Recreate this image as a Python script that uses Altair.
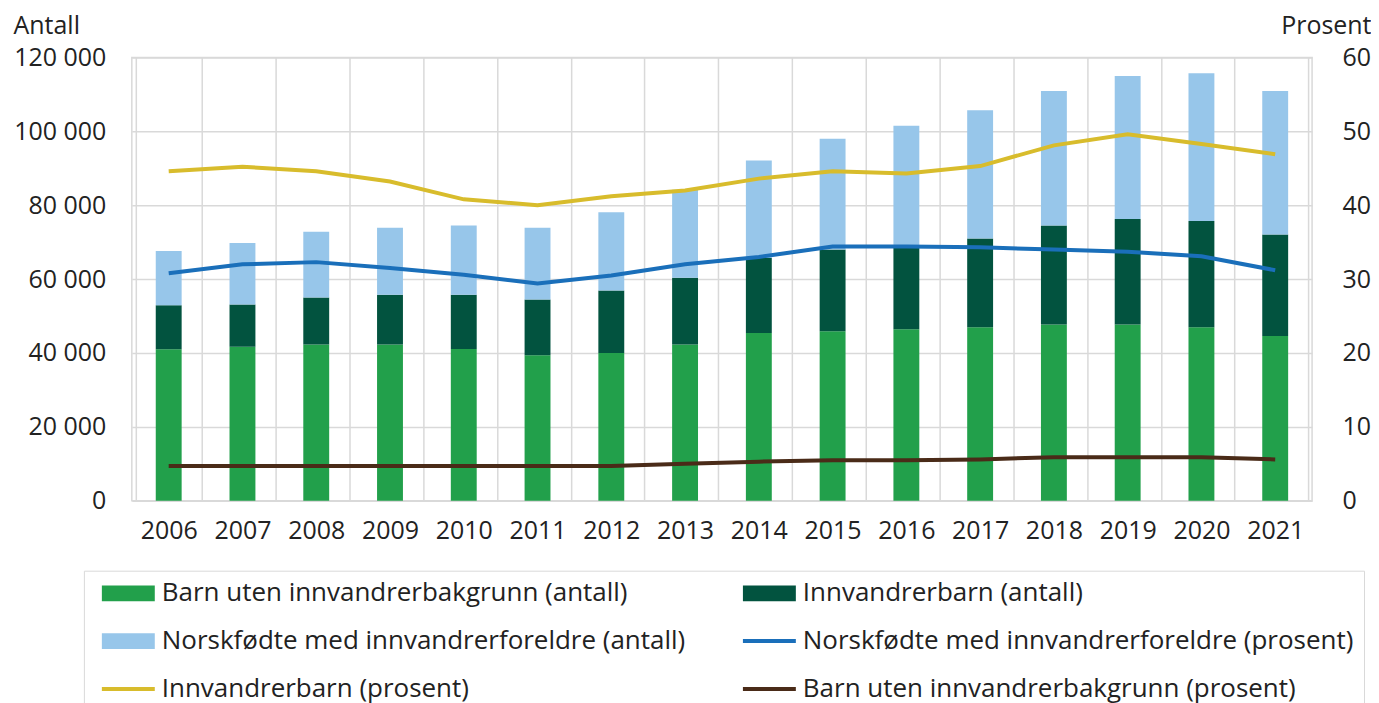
import altair as alt
import pandas as pd

years = [str(y) for y in range(2006, 2022)]

# Antall (stacked bars)
barn_uten_antall = [41000, 41700, 42300, 42300, 41100, 39400, 40000, 42300,
                    45400, 45900, 46400, 47000, 47700, 47700, 47000, 44600]
innvandrer_antall = [11900, 11400, 12700, 13500, 14700, 15100, 16900, 18100,
                     20300, 22100, 22100, 24000, 26800, 28600, 28700, 27500]
norskfodte_antall = [14700, 16700, 17800, 18100, 18700, 19400, 21200, 23800,
                     26400, 30000, 33000, 34700, 36400, 38700, 40000, 38800]

# Prosent (lines)
norskfodte_pct = [30.8, 32.0, 32.3, 31.5, 30.6, 29.4, 30.5, 32.0,
                  33.0, 34.4, 34.4, 34.3, 34.0, 33.7, 33.1, 31.2]
innvandrer_pct = [44.6, 45.2, 44.6, 43.2, 40.8, 40.0, 41.2, 42.0,
                  43.6, 44.6, 44.3, 45.3, 48.1, 49.6, 48.3, 46.9]
barn_uten_pct = [4.7, 4.7, 4.7, 4.7, 4.7, 4.7, 4.7, 5.0,
                 5.3, 5.5, 5.5, 5.6, 5.9, 5.9, 5.9, 5.6]

BU_A = "Barn uten innvandrerbakgrunn (antall)"
IN_A = "Innvandrerbarn (antall)"
NO_A = "Norskfødte med innvandrerforeldre (antall)"
NO_P = "Norskfødte med innvandrerforeldre (prosent)"
IN_P = "Innvandrerbarn (prosent)"
BU_P = "Barn uten innvandrerbakgrunn (prosent)"

bar_series = [BU_A, IN_A, NO_A]
line_series = [NO_P, IN_P, BU_P]
# legend order (filled column by column, 3 rows x 2 columns)
legend_order = [BU_A, NO_A, IN_P, IN_A, NO_P, BU_P]
legend_colors = ["#22a04b", "#97c6ea", "#d8bc2c", "#02533f", "#1a6fba", "#4a2b18"]

bar_rows = []
for k, (name, vals) in enumerate(zip(bar_series, [barn_uten_antall, innvandrer_antall, norskfodte_antall])):
    for y, v in zip(years, vals):
        bar_rows.append({"year": y, "serie": name, "value": v, "ord": k})
bars_df = pd.DataFrame(bar_rows)

line_rows = []
for name, vals in zip(line_series, [norskfodte_pct, innvandrer_pct, barn_uten_pct]):
    for y, v in zip(years, vals):
        line_rows.append({"year": y, "serie": name, "pct": v})
lines_df = pd.DataFrame(line_rows)

FONT = "Open Sans"
TXT = "#222222"
GRID = "#d9d9d9"

shape_sig = ("indexof(datum.value, 'prosent') >= 0 ? "
             "'M-1,-0.075H1V0.075H-1Z' : 'M-1,-0.3H1V0.3H-1Z'")

legend = alt.Legend(
    title=None, orient="none", legendX=-48, legendY=514, columns=2,
    labelFont=FONT, labelFontSize=26, labelColor=TXT, labelLimit=900,
    symbolSize=2809, labelOffset=7, columnPadding=49, rowPadding=21,
    clipHeight=25, symbolOffset=8,
    padding=10, strokeColor=GRID, fillColor="white",
    symbolType={"expr": shape_sig}, symbolStrokeWidth=0, symbolOpacity=1,
)

color = alt.Color("serie:N", scale=alt.Scale(domain=legend_order, range=legend_colors),
                  legend=legend)

x = alt.X("year:N", title=None, sort=years,
          axis=alt.Axis(labelAngle=0, tickBand="extent", grid=True, gridColor=GRID,
                        gridWidth=1.5, ticks=False, domain=False, labelPadding=18,
                        labelFont=FONT, labelFontSize=25, labelColor=TXT))

bar = alt.Chart(bars_df).mark_bar(width=alt.RelativeBandSize(0.39)).encode(
    x=x,
    y=alt.Y("value:Q", stack="zero", scale=alt.Scale(domain=[0, 120000], nice=False),
            axis=alt.Axis(values=[0, 20000, 40000, 60000, 80000, 100000, 120000],
                          labelExpr="replace(format(datum.value, ','), ',', ' ')",
                          title="Antall", titleAngle=0, titleAlign="left",
                          titleBaseline="alphabetic", titleX=-119, titleY=-24,
                          titleFont=FONT, titleFontSize=25, titleFontWeight="normal",
                          titleColor=TXT, grid=True, gridColor=GRID, gridWidth=1.5,
                          ticks=False, domain=False, labelPadding=26,
                          labelFont=FONT, labelFontSize=25, labelColor=TXT)),
    color=color,
    order=alt.Order("ord:Q"),
)

line = alt.Chart(lines_df).mark_line(strokeWidth=4).encode(
    x=x,
    y=alt.Y("pct:Q", scale=alt.Scale(domain=[0, 60], nice=False),
            axis=alt.Axis(orient="right", values=[0, 10, 20, 30, 40, 50, 60],
                          title="Prosent", titleAngle=0, titleAlign="right",
                          titleBaseline="alphabetic", titleX=59, titleY=-24,
                          titleFont=FONT, titleFontSize=25, titleFontWeight="normal",
                          titleColor=TXT, grid=False, ticks=False, domain=False,
                          labelPadding=30, labelFont=FONT, labelFontSize=25,
                          labelColor=TXT)),
    color=color,
)

chart = alt.layer(bar, line).resolve_scale(y="independent").properties(
    width=1182, height=444,
    padding={"left": 5, "top": 5, "right": 0, "bottom": 0},
).configure_view(stroke=GRID, strokeWidth=1.5)

chart.save("out.html", embed_options={"renderer": "svg", "actions": False})
